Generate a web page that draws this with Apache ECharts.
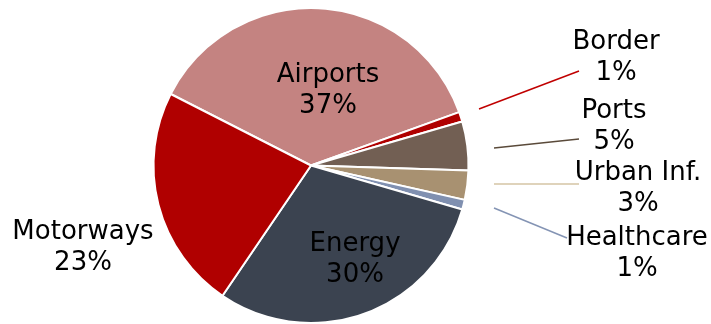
<!DOCTYPE html>
<html>
<head>
<meta charset="utf-8">
<script src="https://cdn.jsdelivr.net/npm/echarts@6/dist/echarts.min.js"></script>
<style>
  html, body { margin: 0; padding: 0; background: #fff; }
  #chart { width: 711px; height: 324px; }
</style>
</head>
<body>
<div id="chart"></div>
<script>
// Investment split by sector (percent of total)
const categories = ['Airports', 'Border', 'Ports', 'Urban Inf.', 'Healthcare', 'Energy', 'Motorways'];
const shares = [37, 1, 5, 3, 1, 30, 23];

// Styling
const sliceColors = ['#C48381', '#B00000', '#725F53', '#A89171', '#8090B0', '#3B4350', '#B00000'];
const leaderColors = [null, '#C00000', '#5A4A3A', '#D4C4A4', '#8494B4', null, null];

// Pie geometry (pixels)
const pieCenter = [311, 165.5];
const pieRadius = 157.5;

// Label block centres and leader line start / end points (pixels)
const labelAnchors = [[328, 91], [616, 58], [614, 127], [638, 189], [637, 254], [355, 260], [83, 248]];
const leaderStarts = [null, [479, 109], [494, 148], [494, 184], [494, 208], null, null];
const leaderEnds = [null, [579, 71], [579, 139], [579, 184], [567, 238], null, null];

const chart = echarts.init(document.getElementById('chart'), null, { renderer: 'canvas' });

const seriesData = categories.map((name, i) => ({
  name: name,
  value: shares[i],
  itemStyle: { color: sliceColors[i] },
  labelLine: leaderColors[i]
    ? { show: true, lineStyle: { color: leaderColors[i], width: 1.5 } }
    : { show: false }
}));

chart.setOption({
  animation: false,
  backgroundColor: '#ffffff',
  series: [{
    type: 'pie',
    center: pieCenter,
    radius: pieRadius,
    startAngle: 153,
    clockwise: true,
    avoidLabelOverlap: false,
    itemStyle: { borderColor: '#ffffff', borderWidth: 2 },
    label: {
      show: true,
      position: 'outside',
      formatter: p => p.name + '\n' + p.value + '%',
      fontFamily: 'DejaVu Sans',
      fontSize: 26,
      lineHeight: 31,
      color: '#000000',
      align: 'center'
    },
    labelLine: { show: true, length: 10, length2: 10 },
    labelLayout: function (params) {
      const i = params.dataIndex;
      const out = {
        x: labelAnchors[i][0],
        y: labelAnchors[i][1],
        align: 'center',
        verticalAlign: 'middle'
      };
      if (leaderEnds[i]) {
        out.labelLinePoints = [leaderStarts[i], leaderEnds[i], leaderEnds[i]];
      }
      return out;
    },
    data: seriesData
  }]
});
</script>
</body>
</html>
